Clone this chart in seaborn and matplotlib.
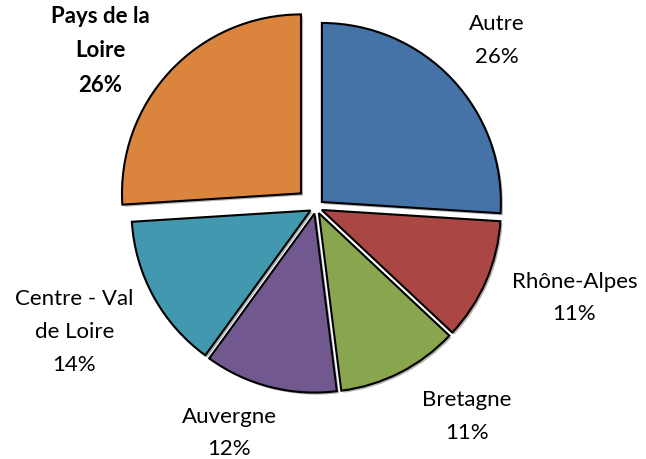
import matplotlib
matplotlib.use("Agg")
import matplotlib.pyplot as plt
import matplotlib.patheffects as pe
import numpy as np
import seaborn as sns

# Share of each region (percent), drawn clockwise from the top
regions = ["Autre", "Rhône-Alpes", "Bretagne", "Auvergne", "Centre - Val\nde Loire", "Pays de la\nLoire"]
shares = [26, 11, 11, 12, 14, 26]
colors = ["#4572A7", "#AA4643", "#89A54E", "#71588F", "#4198AF", "#DB843D"]
explode = [0.045, 0.035, 0.035, 0.035, 0.035, 0.115]
# label placement: distance from centre (in radii) and angle tweak (degrees)
label_dist = [1.375, 1.53, 1.44, 1.35, 1.52, 1.49]
label_turn = [-0.4, 4.1, 8.8, -6.6, -1.5, 7.2]
bold = [False, False, False, False, False, True]

sns.set_theme(style="white")
plt.rcParams["font.family"] = ["Lato", "DejaVu Sans"]

fig = plt.figure(figsize=(6.46, 4.59), dpi=100)
ax = fig.add_axes([0, 0, 1, 1])

wedges, _ = ax.pie(
    shares,
    colors=colors,
    explode=explode,
    startangle=90,
    counterclock=False,
    radius=1.0,
    wedgeprops=dict(edgecolor="black", linewidth=1.5),
)
for w in wedges:
    w.set_path_effects([pe.SimplePatchShadow(offset=(1.5, -1.5), alpha=0.35), pe.Normal()])

total = sum(shares)
start = 90.0
for name, val, d, turn, b, ex in zip(regions, shares, label_dist, label_turn, bold, explode):
    sweep = 360.0 * val / total
    mid = np.deg2rad(start - sweep / 2 + turn)
    start -= sweep
    ax.text(
        d * np.cos(mid), d * np.sin(mid),
        f"{name}\n{round(100 * val / total)}%",
        ha="center", va="center", fontsize=16,
        fontweight="bold" if b else "normal",
        linespacing=1.8, color="black",
    )

ax.set_aspect("auto")
ax.set_xlim(-316 / 179, (646 - 316) / 179)
ax.set_ylim(-(459 - 207.5) / 179, 207.5 / 179)
ax.axis("off")

fig.savefig("out.png", dpi=100, facecolor="white")
